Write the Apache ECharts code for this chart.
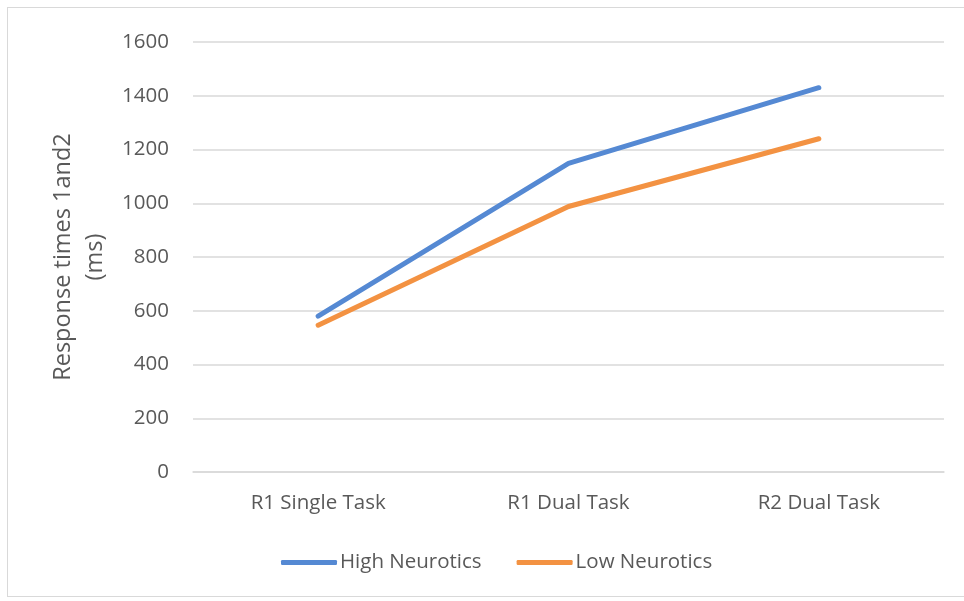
<!DOCTYPE html>
<html>
<head>
<meta charset="utf-8">
<script src="https://cdn.jsdelivr.net/npm/echarts@6/dist/echarts.min.js"></script>
<style>
  html, body { margin: 0; padding: 0; background: #fff; }
  #frame { position: absolute; left: 7px; top: 7px; width: 970px; height: 588px; border: 1px solid #d9d9d9; }
  #main { width: 964px; height: 601px; }
</style>
</head>
<body>
<div id="frame"></div>
<div id="main"></div>
<script>
const categories = ["R1 Single Task", "R1 Dual Task", "R2 Dual Task"];
const highNeurotics = [580, 1148, 1430];
const lowNeurotics = [546, 988, 1240];
const yTicks = { min: 0, max: 1600, interval: 200 };

const font = "'Open Sans', sans-serif";
const textColor = "#595959";

const chartDom = document.getElementById("main");
const myChart = echarts.init(chartDom);

const option = {
  animation: false,
  grid: { left: 193, right: 20, top: 42, bottom: 129 },
  legend: {
    bottom: 23,
    left: 276,
    itemWidth: 56,
    itemHeight: 5,
    itemGap: 35,
    icon: "roundRect",
    textStyle: { color: textColor, fontSize: 20.5, fontFamily: font, padding: [0, 0, 0, -2] },
    data: ["High Neurotics", "Low Neurotics"],
  },
  xAxis: {
    type: "category",
    data: categories,
    boundaryGap: true,
    axisLine: { lineStyle: { color: "#d9d9d9", width: 1.5 } },
    axisTick: { show: false },
    axisLabel: { color: textColor, fontSize: 20.5, fontFamily: font, margin: 21 },
  },
  yAxis: {
    type: "value",
    min: yTicks.min,
    max: yTicks.max,
    interval: yTicks.interval,
    name: "Response times 1and2\n(ms)",
    nameLocation: "middle",
    nameGap: 81,
    nameTextStyle: { color: textColor, fontSize: 23.5, fontFamily: font, lineHeight: 32 },
    axisLine: { show: false },
    axisTick: { show: false },
    axisLabel: {
      color: textColor,
      fontSize: 20.5,
      fontFamily: font,
      margin: 24,
      formatter: (v) => String(v),
    },
    splitLine: { lineStyle: { color: "#d9d9d9", width: 1.5 } },
  },
  series: [
    {
      name: "High Neurotics",
      type: "line",
      data: highNeurotics,
      symbol: "none",
      itemStyle: { color: "#5589d3" },
      lineStyle: { color: "#5589d3", width: 5, cap: "round", join: "round" },
    },
    {
      name: "Low Neurotics",
      type: "line",
      data: lowNeurotics,
      symbol: "none",
      itemStyle: { color: "#f39242" },
      lineStyle: { color: "#f39242", width: 5, cap: "round", join: "round" },
    },
  ],
};

option && myChart.setOption(option);
</script>
</body>
</html>
